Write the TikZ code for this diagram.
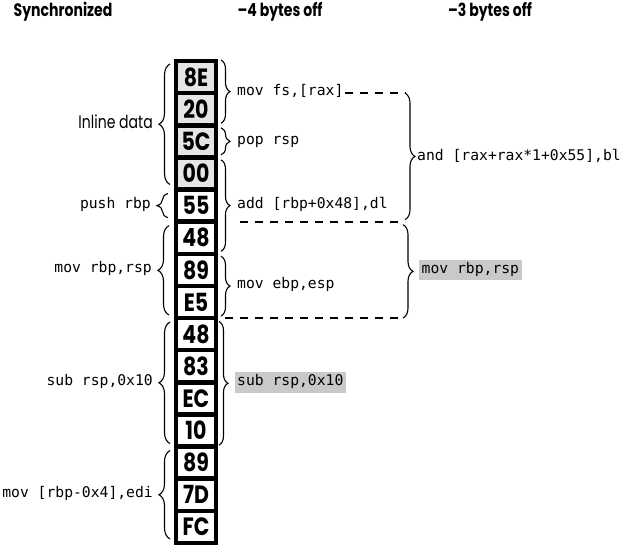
\documentclass[tikz,border=0pt]{standalone}
\usepackage{fontspec}
\setmainfont{Poppins}
\newfontfamily\headfont[FakeStretch=0.78]{Poppins}
\newfontfamily\cellfont[FakeStretch=0.82]{Poppins}
\newfontfamily\codefont{DejaVu Sans Mono}
\usetikzlibrary{decorations.pathreplacing,calc}
\definecolor{cellgray}{gray}{0.9}
\definecolor{hlgray}{gray}{0.79}
\begin{document}
\begin{tikzpicture}[x=1pt,y=-1pt,
  cell/.style={draw, line width=4.5pt, minimum width=40pt, minimum height=32.13pt,
    inner sep=0pt, outer sep=0pt, font=\cellfont\fontsize{25}{25}\selectfont\bfseries},
  gcell/.style={cell, fill=cellgray},
  wcell/.style={cell, fill=white},
  head/.style={font=\headfont\fontsize{18}{18}\selectfont\bfseries, inner sep=0pt},
  code/.style={font=\codefont\fontsize{14.7}{14.7}\selectfont, inner sep=1pt},
  hl/.style={code, fill=hlgray, inner xsep=2.5pt, text height=10.5pt, text depth=3.2pt, inner ysep=3.4pt},
  lbrace/.style={decorate, decoration={brace, amplitude=11pt}, line width=1.1pt},
  rbrace/.style={decorate, decoration={brace, amplitude=9pt}, line width=1.1pt},
  dashline/.style={line width=2pt, dash pattern=on 8.3pt off 6.7pt}]
\path[use as bounding box] (0,0) rectangle (626,548);

% headers
\node[head] (h1) at (63,12) {Synchronized};
\node[head] (h2) at (280,12) {–4 bytes off};
\node[head] (h3) at (490,12) {–3 bytes off};

% byte cells
\node[gcell] (c0) at (196,77.07) {8E};
\node[gcell] (c1) at (196,109.20) {20};
\node[gcell] (c2) at (196,141.33) {5C};
\node[gcell] (c3) at (196,173.46) {00};
\node[wcell] (c4) at (196,205.59) {55};
\node[wcell] (c5) at (196,237.72) {48};
\node[wcell] (c6) at (196,269.85) {89};
\node[wcell] (c7) at (196,301.98) {E5};
\node[wcell] (c8) at (196,334.11) {48};
\node[wcell] (c9) at (196,366.24) {83};
\node[wcell] (c10) at (196,398.37) {EC};
\node[wcell] (c11) at (196,430.50) {10};
\node[wcell] (c12) at (196,462.63) {89};
\node[wcell] (c13) at (196,494.76) {7D};
\node[wcell] (c14) at (196,526.89) {FC};

% synchronized braces (left)
\draw[lbrace] ($(c3.south west)+(-6,-5)$) -- ($(c0.north west)+(-6,3)$);
\node[font=\headfont\fontsize{18}{18}\selectfont, inner sep=0pt, anchor=mid east] (l1)
  at ($(c0.north west)!0.5!(c3.south west)+(-23,0)$) {Inline data};
\draw[lbrace] ($(c4.south west)+(-8,-4)$) -- ($(c4.north west)+(-8,4)$);
\node[code, anchor=mid east] (l2) at ($(c4.west)+(-24,0)$) {push rbp};
\draw[lbrace] ($(c7.south west)+(-7,-3)$) -- ($(c5.north west)+(-7,4)$);
\node[code, anchor=mid east] (l3) at ($(c6.west)+(-23,0)$) {mov rbp,rsp};
\draw[lbrace] ($(c11.south west)+(-6,-3)$) -- ($(c8.north west)+(-6,4)$);
\node[code, anchor=mid east] (l4) at ($(c8.north west)!0.5!(c11.south west)+(-22,0)$) {sub rsp,0x10};
\draw[lbrace] ($(c14.south west)+(-6,-4)$) -- ($(c12.north west)+(-6,4)$);
\node[code, anchor=mid east] (l5) at ($(c13.west)+(-22,0)$) {mov [rbp-0x4],edi};

% -4 bytes off braces (right)
\draw[rbrace] ($(c0.north east)+(5,-1)$) -- ($(c1.south east)+(5,-2)$);
\node[code, anchor=mid west] (m1) at ($(c0.north east)!0.5!(c1.south east)+(20,0)$) {mov fs,[rax]};
\draw[rbrace] ($(c2.north east)+(5,2.5)$) -- ($(c2.south east)+(5,-2.5)$);
\node[code, anchor=mid west] (m2) at ($(c2.east)+(20,0)$) {pop rsp};
\draw[rbrace] ($(c3.north east)+(5,2.5)$) -- ($(c5.south east)+(5,-2.5)$);
\node[code, anchor=mid west] (m3) at ($(c4.east)+(20,0)$) {add [rbp+0x48],dl};
\draw[rbrace] ($(c6.north east)+(5,2.5)$) -- ($(c7.south east)+(5,-2)$);
\node[code, anchor=mid west] (m4) at ($(c6.south east)+(20,0)$) {mov ebp,esp};
\draw[rbrace] ($(c8.north east)+(3,3.5)$) -- ($(c11.south east)+(3,-1.5)$);
\node[hl, anchor=west] (m5) at ($(c8.north east)!0.5!(c11.south east)+(18.5,0)$) {sub rsp,0x10};

% -3 bytes off
\path (c1.north) ++(209,0) coordinate (andT);
\path (c5.north) ++(209,0) coordinate (andB);
\path (c5.north) ++(44,0) coordinate (andL);
\path (c7.south) ++(207,0) coordinate (rbB);
\path (c7.south) ++(29,0) coordinate (rbL);
\draw[dashline] (m1.east |- andT) -- (andT);
\draw[dashline] (andL) -- (andB);
\draw[dashline] (rbL) -- (rbB);
\draw[rbrace, decoration={amplitude=10pt}] (andT) -- ($(andB)+(0,-2)$);
\node[code, anchor=mid west] (n1) at ($(andT)!0.5!(andB)+(11,0)$) {and [rax+rax*1+0x55],bl};
\draw[rbrace, decoration={amplitude=10pt}] ($(andB)+(-2,3)$) -- (rbB);
\node[hl, anchor=west] (n2) at ($(andB)!0.5!(rbB)+(15,0)$) {mov rbp,rsp};
\end{tikzpicture}
\end{document}
